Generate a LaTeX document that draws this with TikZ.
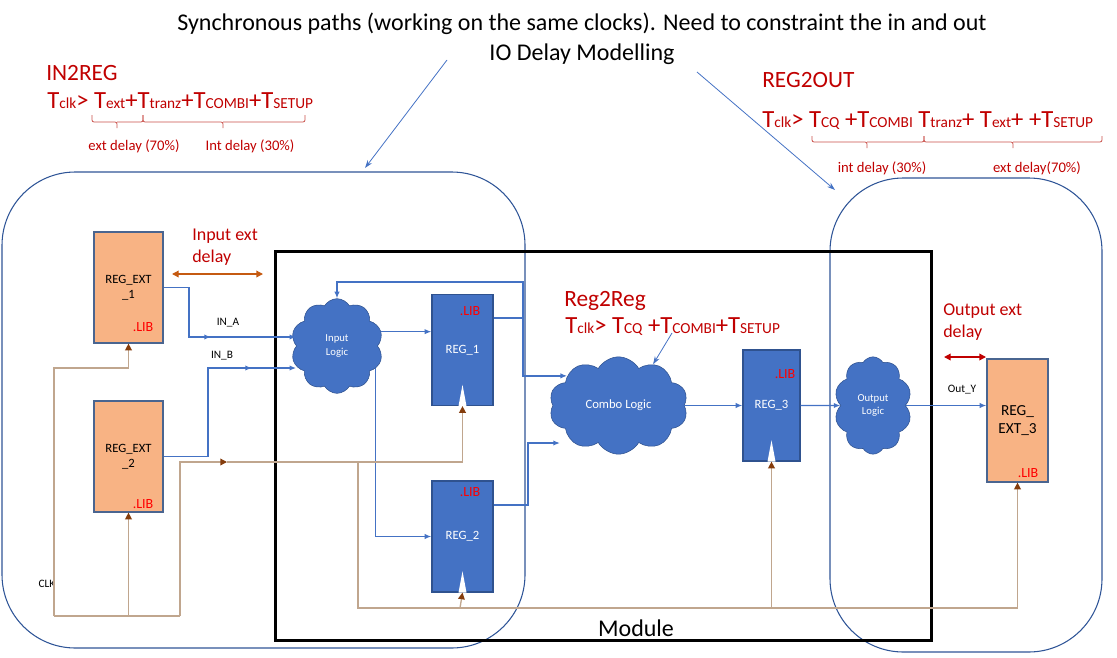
\documentclass[tikz,border=0pt]{standalone}
\usepackage{fontspec}
\setmainfont{Carlito}
\usetikzlibrary{arrows.meta,shapes.symbols}
\definecolor{regblue}{HTML}{4472C4}
\definecolor{regedge}{HTML}{2F528F}
\definecolor{extfill}{HTML}{F8B384}
\definecolor{extedge}{HTML}{4A6590}
\definecolor{zoneblue}{HTML}{2F5597}
\definecolor{clkwire}{HTML}{C0A68E}
\definecolor{clkhead}{HTML}{843C0C}
\definecolor{darkred}{HTML}{C00000}
\definecolor{bracered}{HTML}{C9504A}
\definecolor{delayor}{HTML}{C55A11}
\newcommand{\tsub}[1]{T{\fontsize{11.5}{13}\selectfont #1}}

\begin{document}
\begin{tikzpicture}[x=0.75pt,y=-0.75pt,
  extreg/.style={draw=extedge,fill=extfill,line width=0.9pt,align=center,font=\fontsize{9.5}{11.5}\selectfont},
  reg/.style={draw=regedge,fill=regblue,line width=0.9pt,text=white,font=\fontsize{9.5}{11.5}\selectfont,minimum width=45.75pt,minimum height=83.25pt},
  logic/.style={cloud,cloud puffs=10,cloud puff arc=120,cloud ignores aspect,draw=regedge,fill=regblue,text=white,align=center,inner sep=0pt},
  lib/.style={text=red,font=\fontsize{10.5}{12}\selectfont,inner sep=0pt},
  wire/.style={draw=regblue,line width=1.1pt,-{Latex[length=5pt,width=4pt]}},
  clk/.style={draw=clkwire,line width=1pt,-{Triangle[length=5pt,width=5pt,color=clkhead]}},
  ptr/.style={draw=regblue,line width=0.6pt,-{Stealth[length=6pt,width=4pt]}},
  zone/.style={draw=zoneblue,line width=0.8pt,rounded corners=55pt},
  brc/.style={draw=bracered,line width=0.6pt,rounded corners=1.5pt},
  small/.style={font=\fontsize{8.5}{10}\selectfont,inner sep=0pt},
  note/.style={text=darkred,inner sep=0pt},
  heading/.style={note,font=\fontsize{17.5}{20}\selectfont,anchor=base west},
  formula/.style={note,font=\fontsize{18.5}{21}\selectfont,anchor=base west}]
\useasboundingbox (0,0) rectangle (1117,657);

% titles
\node[font=\fontsize{18}{21}\selectfont,anchor=base,inner sep=0pt] (title1) at (582,30) {Synchronous paths (working on the same clocks). Need to constraint the in and out};
\node[font=\fontsize{18}{21}\selectfont,anchor=base,inner sep=0pt] (title2) at (582,60) {IO Delay Modelling};
\coordinate (ptrL) at (447,60);
\coordinate (ptrR) at (697,72);
\coordinate (zoneL) at (365,168);
\coordinate (zoneR) at (835,190);
\draw[ptr] (ptrL) -- (zoneL);
\draw[ptr] (ptrR) -- (zoneR);

% IN2REG
\node[heading] (in2reg) at (46,80) {IN2REG};
\node[formula] (f1) at (47,108) {\tsub{clk}> \tsub{ext}+\tsub{tranz}+\tsub{COMBI}+\tsub{SETUP}};
\draw[brc] (92,115) |- (117,122) -- (117,128) (117,122) -| (143,115);
\draw[brc] (143,115) |- (223,122) -- (223,128) (223,122) -| (305,115);
\node[note,font=\fontsize{11}{13}\selectfont,anchor=base] (extd1) at (134,150) {ext delay (70\%)};
\node[note,font=\fontsize{11}{13}\selectfont,anchor=base] (intd1) at (250,150) {Int delay (30\%)};

% REG2OUT
\node[heading] (reg2out) at (762,87) {REG2OUT};
\node[formula] (f2) at (762,127) {\tsub{clk}> \tsub{CQ} +\tsub{COMBI} \tsub{tranz}+ \tsub{ext}+ +\tsub{SETUP}};
\draw[brc] (812,136) |- (867,142) -- (867,148) (867,142) -| (924,136);
\draw[brc] (924,136) |- (1013,142) -- (1013,148) (1013,142) -| (1102,136);
\node[note,font=\fontsize{11}{13}\selectfont,anchor=base] (intd2) at (882,172) {int delay (30\%)};
\node[note,font=\fontsize{11}{13}\selectfont,anchor=base] (extd2) at (1037,172) {ext delay(70\%)};

% zones and module
\draw[zone] (2,172) rectangle (525,648);
\draw[zone] (830,178) rectangle (1102,652);
\draw[line width=2.25pt] (275,251) rectangle (931,640);
\node[font=\fontsize{18}{21}\selectfont,inner sep=0pt] (module) at (636,628) {Module};

% external registers
\node[extreg,minimum width=51.75pt,minimum height=83.25pt] (ext1) at (128.5,287.5) {REG\_EXT\\\_1};
\node[extreg,minimum width=51.75pt,minimum height=83.25pt] (ext2) at (128.5,456.5) {REG\_EXT\\\_2};
\node[extreg,minimum width=45.75pt,minimum height=92.25pt,font=\fontsize{11.5}{13.5}\selectfont] (ext3) at (1017.5,420.5) {REG\_\\EXT\_3};
\node[lib,anchor=base east] (lib1) at ([xshift=-7.5pt,yshift=9pt]ext1.south east) {.LIB};
\node[lib,anchor=base east] (lib2) at ([xshift=-7.5pt,yshift=3pt]ext2.south east) {.LIB};
\node[lib,anchor=base east] (lib3) at ([xshift=-7.5pt,yshift=3.75pt]ext3.south east) {.LIB};

% internal registers
\node[reg] (reg1) at (462.5,350) {REG\_1};
\node[reg] (reg2) at (462.5,536.5) {REG\_2};
\node[reg,minimum width=42.75pt] (reg3) at (771.5,405.5) {REG\_3};
\node[lib,anchor=base east] (lib4) at ([xshift=-9.75pt,yshift=-16.5pt]reg1.north east) {.LIB};
\node[lib,anchor=base east] (lib5) at ([xshift=-9.75pt,yshift=-12pt]reg2.north east) {.LIB};
\node[lib,anchor=base east] (lib6) at ([xshift=-3.75pt,yshift=-21.75pt]reg3.north east) {.LIB};
\foreach \r in {reg1,reg2,reg3}
  \fill[white] ([xshift=-3pt]\r.south) -- ([xshift=3pt]\r.south) -- ([yshift=16pt]\r.south) -- cycle;

% logic clouds
\node[logic,minimum width=69pt,minimum height=71pt,font=\fontsize{8}{10}\selectfont] (inlogic) at (337,346) {Input\\Logic};
\node[logic,minimum width=104pt,minimum height=73pt,font=\fontsize{9.5}{11}\selectfont] (combo) at (618.5,405.5) {Combo Logic};
\node[logic,minimum width=58pt,minimum height=73pt,font=\fontsize{8}{10}\selectfont] (outlogic) at (873,405.5) {Output\\Logic};

% delay labels
\node[note,font=\fontsize{13.5}{16}\selectfont,align=left,anchor=north west] (inext) at (192,229) {Input ext\\delay};
\node[note,font=\fontsize{13.5}{16}\selectfont,align=left,anchor=north west] (outext) at (943,304) {Output ext\\delay};
\coordinate (iedL) at (172,274);
\coordinate (iedR) at (263,274);
\coordinate (oedL) at (944,357);
\coordinate (oedR) at (986,357);
\draw[delayor,line width=1pt,{Triangle[length=5pt,width=5pt]}-{Triangle[length=5pt,width=5pt]}] (iedL) -- (iedR);
\draw[darkred,line width=1pt,{Triangle[length=5pt,width=5pt]}-{Triangle[length=5pt,width=5pt]}] (oedL) -- (oedR);

% Reg2Reg
\node[heading] (reg2reg) at (564,306) {Reg2Reg};
\node[formula] (f3) at (565,333) {\tsub{clk}> \tsub{CQ} +\tsub{COMBI}+\tsub{SETUP}};
\coordinate (f3p) at (672,333);
\draw[ptr] (f3p) -- (combo.50);

% data wires
\coordinate (inaC) at (189,337);
\coordinate (inaM) at (211,337);
\coordinate (inbC) at (208,368);
\coordinate (inbM) at (252,368);
\draw[wire,-] (ext1.east) -| (inaC) -- (inaM);
\draw[wire] (inaC) -- (inaM);
\draw[wire] (inaM) -- (inaM -| inlogic.west);
\draw[wire,-] (ext2.east) -| (inbC) -- (inbM);
\draw[wire] (inbC) -- (inbM);
\draw[wire] (inbM) -- (inbM -| inlogic.west);
\node[small,anchor=base] (ina) at (228,325) {IN\_A};
\node[small,anchor=base] (inb) at (222,358) {IN\_B};

\draw[wire] (inlogic.18) -- (inlogic.18 -| reg1.west);
\draw[wire] (inlogic.-30) |- (reg2.west);

\coordinate (r1o) at (523,318);
\coordinate (fbT) at (523,282);
\coordinate (r2b) at (528,443);
\coordinate (c2in) at (560,443);
\draw[wire,-] ([yshift=24pt]reg1.east) -- (r1o);
\draw[wire] (r1o) -- (fbT) -| (inlogic.north);
\draw[wire] (r1o) |- (combo.150);
\draw[wire] ([yshift=23.6pt]reg2.east) -| (r2b) -- (c2in);
\draw[wire] (combo.east) -- (combo.east -| reg3.west);
\draw[wire] (reg3.east) -- (outlogic.west);
\draw[wire] (outlogic.east) -- (outlogic.east -| ext3.west);
\node[small,anchor=base] (outy) at (962,392) {Out\_Y};

% clock tree
\coordinate (clkT) at (54,368);
\coordinate (clkB) at (54,616);
\coordinate (clkR) at (180,616);
\coordinate (clkM) at (227,462);
\coordinate (clkJ) at (358,462);
\coordinate (clkL) at (460,608);
\node[small,anchor=base] (clklbl) at (47,587) {CLK};
\draw[clk] (clkB) -- (clkT) -| (ext1.south);
\draw[clk,-] (clkB) -- (clkR);
\draw[clk] (ext2.south |- clkB) -- (ext2.south);
\draw[clk] (clkR) |- (clkM);
\draw[clk] (clkM) -| (reg1.south);
\draw[clk,-] (clkJ) |- (clkL);
\draw[clk] (clkL) -- (reg2.south);
\draw[clk] (clkL) -| (ext3.south);
\draw[clk] (reg3.south |- clkL) -- (reg3.south);
\end{tikzpicture}
\end{document}
